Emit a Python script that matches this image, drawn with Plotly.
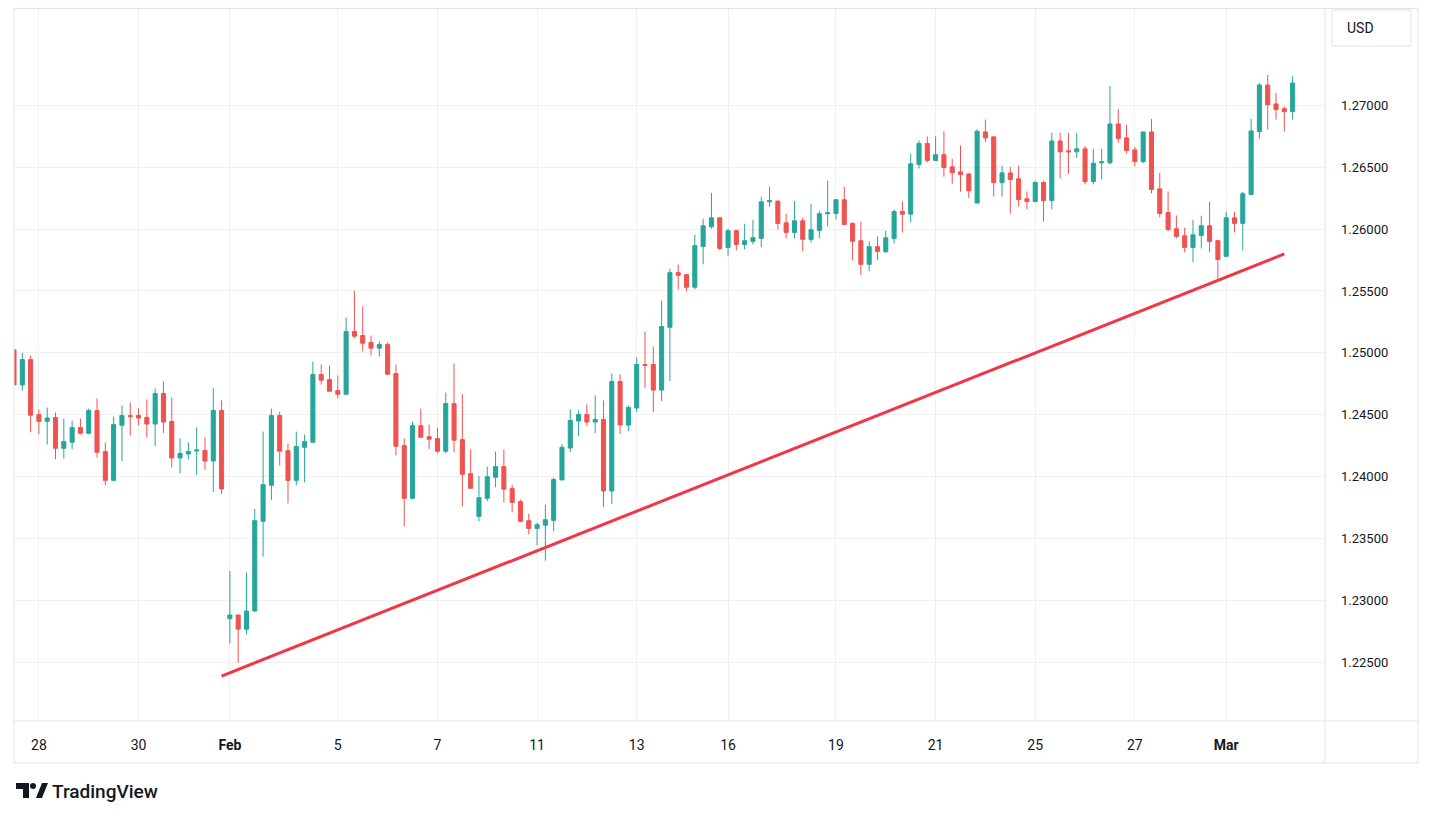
import plotly.graph_objects as go

# GBP/USD 4H candles, late Jan -> early Mar
opens = [1.25024, 1.24741, 1.24946, 1.24501, 1.24447, 1.24477, 1.24229, 1.24278, 1.24396, 1.24350,
         1.24534, 1.24202, 1.23970, 1.24415, 1.24493, 1.24495, 1.24478, 1.24425, 1.24672, 1.24446,
         1.24151, 1.24183, 1.24207, 1.24212, 1.24126, 1.24535, 1.22852, 1.22882, 1.22768, 1.22914,
         1.23639, 1.23930, 1.24493, 1.24210, 1.23970, 1.24237, 1.24278, 1.24825, 1.24784, 1.24695,
         1.24666, 1.25173, 1.25140, 1.25084, 1.25038, 1.25067, 1.24833, 1.24251, 1.23825, 1.24412,
         1.24323, 1.24307, 1.24205, 1.24590, 1.24299, 1.24024, 1.23679, 1.23825, 1.23995, 1.24081,
         1.23903, 1.23798, 1.23644, 1.23582, 1.23607, 1.23647, 1.23973, 1.24231, 1.24449, 1.24503,
         1.24441, 1.24462, 1.23884, 1.24769, 1.24417, 1.24554, 1.24906, 1.24906, 1.24699, 1.25207,
         1.25648, 1.25632, 1.25530, 1.25860, 1.26019, 1.26091, 1.25852, 1.25987, 1.25876, 1.25901,
         1.25925, 1.26220, 1.26226, 1.26051, 1.25973, 1.26067, 1.25917, 1.25989, 1.26124, 1.26126,
         1.26237, 1.26046, 1.25906, 1.25715, 1.25858, 1.25817, 1.25923, 1.26142, 1.26120, 1.26522,
         1.26691, 1.26555, 1.26601, 1.26503, 1.26462, 1.26445, 1.26210, 1.26785, 1.26745, 1.26376,
         1.26454, 1.26406, 1.26245, 1.26223, 1.26376, 1.26231, 1.26712, 1.26632, 1.26624, 1.26648,
         1.26384, 1.26535, 1.26535, 1.26849, 1.26737, 1.26640, 1.26546, 1.26785, 1.26325, 1.26134,
         1.26003, 1.25946, 1.25852, 1.25949, 1.26027, 1.25906, 1.25780, 1.26091, 1.26046, 1.26280,
         1.26788, 1.27164, 1.27011, 1.26973, 1.26949]
highs = [1.25030, 1.25000, 1.24978, 1.24542, 1.24558, 1.24518, 1.24469, 1.24453, 1.24469, 1.24550,
         1.24631, 1.24275, 1.24485, 1.24574, 1.24598, 1.24551, 1.24624, 1.24712, 1.24769, 1.24640,
         1.24309, 1.24277, 1.24398, 1.24317, 1.24715, 1.24616, 1.23237, 1.22882, 1.23224, 1.23739,
         1.24364, 1.24550, 1.24526, 1.24267, 1.24364, 1.24340, 1.24930, 1.24906, 1.24898, 1.24817,
         1.25286, 1.25500, 1.25375, 1.25140, 1.25092, 1.25084, 1.24906, 1.24307, 1.24445, 1.24550,
         1.24420, 1.24396, 1.24679, 1.24914, 1.24666, 1.24218, 1.24005, 1.24081, 1.24202, 1.24218,
         1.23935, 1.23814, 1.23701, 1.23628, 1.23774, 1.23992, 1.24263, 1.24543, 1.24535, 1.24583,
         1.24656, 1.24616, 1.24833, 1.24825, 1.24575, 1.24962, 1.25172, 1.25051, 1.25422, 1.25680,
         1.25712, 1.25632, 1.25954, 1.26083, 1.26293, 1.26099, 1.26003, 1.25995, 1.26043, 1.26075,
         1.26261, 1.26341, 1.26230, 1.26124, 1.26226, 1.26091, 1.26204, 1.26148, 1.26390, 1.26240,
         1.26341, 1.26054, 1.26059, 1.25901, 1.25941, 1.25986, 1.26158, 1.26224, 1.26609, 1.26716,
         1.26749, 1.26749, 1.26790, 1.26568, 1.26675, 1.26454, 1.26806, 1.26885, 1.26745, 1.26511,
         1.26503, 1.26511, 1.26304, 1.26390, 1.26390, 1.26777, 1.26777, 1.26777, 1.26777, 1.26672,
         1.26648, 1.26648, 1.27156, 1.26970, 1.26841, 1.26664, 1.26785, 1.26890, 1.26454, 1.26304,
         1.26110, 1.26011, 1.26075, 1.26108, 1.26223, 1.25914, 1.26140, 1.26140, 1.26301, 1.26890,
         1.27180, 1.27245, 1.27099, 1.26989, 1.27237]
lows = [1.24741, 1.24695, 1.24358, 1.24342, 1.24259, 1.24140, 1.24146, 1.24221, 1.24340, 1.24342,
        1.24154, 1.23930, 1.23962, 1.24124, 1.24334, 1.24414, 1.24317, 1.24247, 1.24352, 1.24075,
        1.24027, 1.24140, 1.24013, 1.24054, 1.23876, 1.23860, 1.22651, 1.22497, 1.22725, 1.22911,
        1.23353, 1.23810, 1.24089, 1.23784, 1.23930, 1.23954, 1.24278, 1.24744, 1.24690, 1.24633,
        1.24658, 1.25119, 1.25011, 1.24978, 1.24970, 1.24827, 1.24173, 1.23598, 1.23817, 1.24318,
        1.24221, 1.24189, 1.24189, 1.24197, 1.23760, 1.23906, 1.23639, 1.23801, 1.23914, 1.23792,
        1.23712, 1.23631, 1.23534, 1.23445, 1.23321, 1.23558, 1.23973, 1.24200, 1.24328, 1.24409,
        1.24352, 1.23755, 1.23780, 1.24344, 1.24368, 1.24522, 1.24715, 1.24522, 1.24610, 1.24772,
        1.25513, 1.25497, 1.25513, 1.25715, 1.26003, 1.25828, 1.25780, 1.25828, 1.25836, 1.25876,
        1.25852, 1.26180, 1.25997, 1.25925, 1.25925, 1.25820, 1.25892, 1.25925, 1.26022, 1.26078,
        1.26030, 1.25747, 1.25626, 1.25659, 1.25747, 1.25809, 1.25883, 1.25973, 1.26055, 1.26489,
        1.26538, 1.26555, 1.26423, 1.26366, 1.26301, 1.26251, 1.26210, 1.26704, 1.26263, 1.26263,
        1.26126, 1.26183, 1.26159, 1.26215, 1.26062, 1.26159, 1.26409, 1.26446, 1.26575, 1.26360,
        1.26360, 1.26401, 1.26522, 1.26699, 1.26610, 1.26505, 1.26530, 1.26288, 1.26094, 1.25981,
        1.25925, 1.25812, 1.25731, 1.25844, 1.25812, 1.25600, 1.25780, 1.25973, 1.25828, 1.26280,
        1.26731, 1.26804, 1.26884, 1.26788, 1.26884]
closes = [1.24741, 1.24946, 1.24496, 1.24447, 1.24474, 1.24229, 1.24283, 1.24396, 1.24350, 1.24534,
          1.24197, 1.23970, 1.24420, 1.24493, 1.24485, 1.24473, 1.24425, 1.24672, 1.24441, 1.24151,
          1.24188, 1.24204, 1.24215, 1.24126, 1.24535, 1.23901, 1.22882, 1.22768, 1.22914, 1.23644,
          1.23935, 1.24493, 1.24205, 1.23970, 1.24243, 1.24283, 1.24825, 1.24779, 1.24690, 1.24666,
          1.25173, 1.25135, 1.25078, 1.25038, 1.25067, 1.24827, 1.24245, 1.23825, 1.24412, 1.24318,
          1.24302, 1.24205, 1.24590, 1.24294, 1.24019, 1.23906, 1.23830, 1.24000, 1.24081, 1.23898,
          1.23792, 1.23639, 1.23582, 1.23612, 1.23652, 1.23976, 1.24237, 1.24454, 1.24503, 1.24441,
          1.24462, 1.23884, 1.24769, 1.24417, 1.24559, 1.24906, 1.24898, 1.24699, 1.25212, 1.25648,
          1.25626, 1.25530, 1.25866, 1.26027, 1.26091, 1.25844, 1.25987, 1.25876, 1.25906, 1.25930,
          1.26220, 1.26231, 1.26046, 1.25973, 1.26067, 1.25917, 1.25995, 1.26124, 1.26132, 1.26237,
          1.26038, 1.25901, 1.25715, 1.25858, 1.25820, 1.25929, 1.26142, 1.26120, 1.26527, 1.26691,
          1.26555, 1.26601, 1.26497, 1.26456, 1.26440, 1.26309, 1.26790, 1.26737, 1.26376, 1.26454,
          1.26401, 1.26239, 1.26223, 1.26376, 1.26231, 1.26712, 1.26624, 1.26624, 1.26648, 1.26384,
          1.26532, 1.26543, 1.26849, 1.26731, 1.26634, 1.26546, 1.26785, 1.26320, 1.26126, 1.25997,
          1.25941, 1.25852, 1.25954, 1.26027, 1.25900, 1.25755, 1.26091, 1.26046, 1.26285, 1.26793,
          1.27164, 1.27005, 1.26965, 1.26949, 1.27180]
bar_index = list(range(len(opens)))

date_ticks = [3, 15, 26, 39, 51, 63, 75, 86, 99, 111, 123, 135, 146]
date_labels = ["28", "30", "<b>Feb</b>", "5", "7", "11", "13", "16", "19", "21",
               "25", "27", "<b>Mar</b>"]
price_ticks = [1.225, 1.230, 1.235, 1.240, 1.245, 1.250, 1.255, 1.260, 1.265, 1.270]
price_labels = ["1.22500", "1.23000", "1.23500", "1.24000", "1.24500", "1.25000",
                "1.25500", "1.26000", "1.26500", "1.27000"]

# support trendline drawn on the chart
trend_index = [25, 153]
trend_price = [1.22389, 1.25799]

UP = '#26a69a'
DOWN = '#ef5350'
TEXT = '#131722'
BORDER = '#e0e3eb'
GRID = '#f0f0f0'
FONT = 'Roboto, Arial, sans-serif'

# the page body adds an 8px margin, so the figure is drawn 8px smaller
OFF = 8
W, H = 1433 - OFF, 817 - OFF
PL, PR, PT, PB = 6, 1317, 0, 713   # plot area in figure pixels


def px(x):
    # screen pixel -> paper x
    return (x - OFF - PL) / (PR - PL)


def py(y):
    # screen pixel -> paper y
    return (PB - (y - OFF)) / (PB - PT)


fig = go.Figure()

fig.add_trace(go.Candlestick(
    x=bar_index, open=opens, high=highs, low=lows, close=closes,
    increasing=dict(line=dict(color=UP, width=1), fillcolor=UP),
    decreasing=dict(line=dict(color=DOWN, width=1), fillcolor=DOWN),
    whiskerwidth=0, showlegend=False, hoverinfo='skip'))

fig.add_trace(go.Scatter(
    x=trend_index, y=trend_price, mode='lines',
    line=dict(color='#f23645', width=3), showlegend=False, hoverinfo='skip'))

# widget frame lines
frame = [
    (14, 8.5, 1418, 8.5), (14, 8, 14, 763), (14, 763, 1418, 763),
    (1418, 8, 1418, 763), (1325, 8, 1325, 763), (14, 721, 1418, 721)]
for x0, y0, x1, y1 in frame:
    fig.add_shape(type='line', xref='paper', yref='paper',
                  x0=px(x0), y0=py(y0), x1=px(x1), y1=py(y1),
                  line=dict(color=BORDER, width=1), layer='above')

# currency box
fig.add_shape(type='rect', xref='paper', yref='paper',
              x0=px(1332), y0=py(10), x1=px(1411), y1=py(46),
              line=dict(color=BORDER, width=1), fillcolor='white')
fig.add_annotation(text='USD', xref='paper', yref='paper', x=px(1345), y=py(28),
                   xanchor='left', yanchor='middle', showarrow=False,
                   font=dict(family=FONT, size=14, color=TEXT))

# TradingView logo
logo_a = [(16, 783), (29, 783), (29, 798), (23, 798), (23, 789), (16, 789)]
logo_c = [(36, 798), (42, 783), (48, 783), (42, 798)]
for poly in (logo_a, logo_c):
    path = 'M ' + ' L '.join(f'{px(a):.5f},{py(b):.5f}' for a, b in poly) + ' Z'
    fig.add_shape(type='path', xref='paper', yref='paper', path=path,
                  fillcolor=TEXT, line=dict(width=0))
fig.add_shape(type='circle', xref='paper', yref='paper',
              x0=px(30), y0=py(789), x1=px(36), y1=py(783),
              fillcolor=TEXT, line=dict(width=0))
fig.add_annotation(text='TradingView', xref='paper', yref='paper', x=px(50), y=py(791),
                   xanchor='left', yanchor='middle', showarrow=False,
                   font=dict(family=FONT, size=19, color=TEXT, weight=500))

fig.update_layout(
    width=W, height=H,
    margin=dict(l=PL, r=W - PR, t=PT, b=H - PB, pad=0),
    plot_bgcolor='white', paper_bgcolor='white',
    font=dict(family=FONT, size=13, color=TEXT),
    boxgap=0.3,
    xaxis=dict(
        range=[0, 157.9], tickmode='array', tickvals=date_ticks, ticktext=date_labels,
        showgrid=True, gridcolor=GRID, gridwidth=1, zeroline=False, showline=False,
        ticks='', ticklabelstandoff=14, tickfont=dict(size=14, color=TEXT),
        rangeslider=dict(visible=False), fixedrange=True),
    yaxis=dict(
        side='right', range=[1.220258, 1.277861], tickmode='array',
        tickvals=price_ticks, ticktext=price_labels,
        showgrid=True, gridcolor=GRID, gridwidth=1, zeroline=False, showline=False,
        ticks='', ticklabelstandoff=15, tickfont=dict(size=13, color=TEXT),
        fixedrange=True),
    hovermode=False)

fig.write_html("out.html")
